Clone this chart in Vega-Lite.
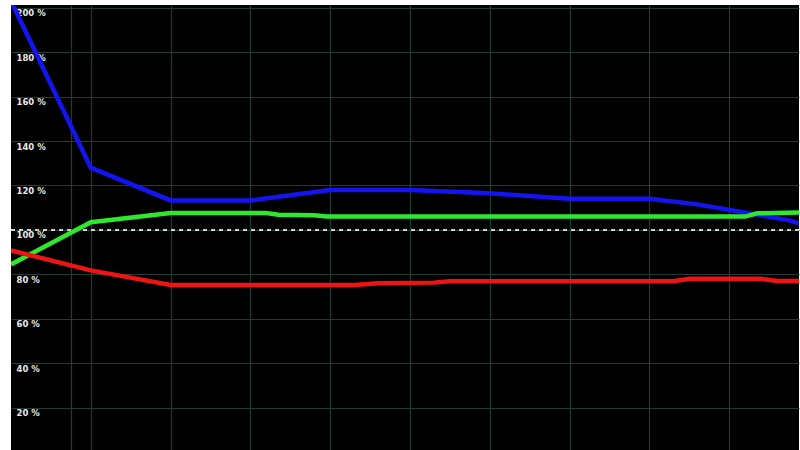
{
  "$schema": "https://vega.github.io/schema/vega-lite/v6.json",
  "width": 800,
  "height": 450,
  "autosize": {"type": "fit", "contains": "padding"},
  "padding": {"left": 10, "top": 5, "right": 0, "bottom": 0},
  "background": "white",
  "config": {"view": {"fill": "black", "stroke": null}},
  "datasets": {
    "series": [
      {"t": 0, "v": 203, "s": "blue"},
      {"t": 1, "v": 128, "s": "blue"},
      {"t": 2, "v": 113.3, "s": "blue"},
      {"t": 3, "v": 113.3, "s": "blue"},
      {"t": 4, "v": 118, "s": "blue"},
      {"t": 5, "v": 118, "s": "blue"},
      {"t": 6, "v": 116.5, "s": "blue"},
      {"t": 7, "v": 114, "s": "blue"},
      {"t": 8, "v": 114, "s": "blue"},
      {"t": 8.6, "v": 111.5, "s": "blue"},
      {"t": 9.25, "v": 107.5, "s": "blue"},
      {"t": 9.75, "v": 104.3, "s": "blue"},
      {"t": 9.875, "v": 103, "s": "blue"},
      {"t": 0, "v": 84.5, "s": "green"},
      {"t": 1, "v": 103.5, "s": "green"},
      {"t": 2, "v": 107.6, "s": "green"},
      {"t": 3.2, "v": 107.6, "s": "green"},
      {"t": 3.35, "v": 106.8, "s": "green"},
      {"t": 3.8, "v": 106.6, "s": "green"},
      {"t": 3.95, "v": 106, "s": "green"},
      {"t": 9.2, "v": 106, "s": "green"},
      {"t": 9.35, "v": 107.5, "s": "green"},
      {"t": 9.875, "v": 107.8, "s": "green"},
      {"t": 0, "v": 90.8, "s": "red"},
      {"t": 1, "v": 81.8, "s": "red"},
      {"t": 2, "v": 75.2, "s": "red"},
      {"t": 3, "v": 75.2, "s": "red"},
      {"t": 4.3, "v": 75.2, "s": "red"},
      {"t": 4.6, "v": 76, "s": "red"},
      {"t": 5.3, "v": 76.3, "s": "red"},
      {"t": 5.5, "v": 76.9, "s": "red"},
      {"t": 8.3, "v": 76.9, "s": "red"},
      {"t": 8.5, "v": 78, "s": "red"},
      {"t": 9.4, "v": 78, "s": "red"},
      {"t": 9.6, "v": 77, "s": "red"},
      {"t": 9.875, "v": 77, "s": "red"}
    ],
    "ref": [{"v": 100}]
  },
  "layer": [
    {
      "data": {"name": "ref"},
      "mark": {"type": "rule", "color": "#d0d0d0", "strokeWidth": 2, "strokeDash": [4, 4]},
      "encoding": {
        "y": {"field": "v", "type": "quantitative", "scale": {"domain": [1, 201.2]}}
      }
    },
    {
      "data": {"name": "series"},
      "mark": {"type": "line", "strokeWidth": 4.5, "clip": true},
      "encoding": {
        "x": {
          "field": "t", "type": "quantitative",
          "scale": {"domain": [0, 9.875], "nice": false, "zero": false},
          "axis": {
            "values": [0.75, 1, 2, 3, 4, 5, 6, 7, 8, 9],
            "grid": true, "gridColor": "#1f3d38", "gridWidth": 1.2,
            "labels": false, "ticks": false, "domain": false, "title": null
          }
        },
        "y": {
          "field": "v", "type": "quantitative",
          "scale": {"domain": [1, 201.2], "nice": false, "zero": false},
          "axis": {
            "values": [20, 40, 60, 80, 100, 120, 140, 160, 180, 200],
            "labelExpr": "datum.value + ' %'",
            "grid": true, "gridColor": "#1f3d38", "gridWidth": 1.2,
            "ticks": false, "tickSize": 0, "domain": false, "title": null,
            "labelAlign": "left", "labelBaseline": "top", "labelPadding": -5, "labelOffset": 1,
            "labelColor": "#e8e8e8", "labelFont": "DejaVu Sans", "labelFontSize": 8.5, "labelFontWeight": "bold"
          }
        },
        "color": {
          "field": "s", "type": "nominal",
          "scale": {"domain": ["red", "green", "blue"], "range": ["#ee1414", "#2ee82e", "#1414f0"]},
          "legend": null
        },
        "order": {"field": "t", "type": "quantitative"}
      }
    }
  ]
}
